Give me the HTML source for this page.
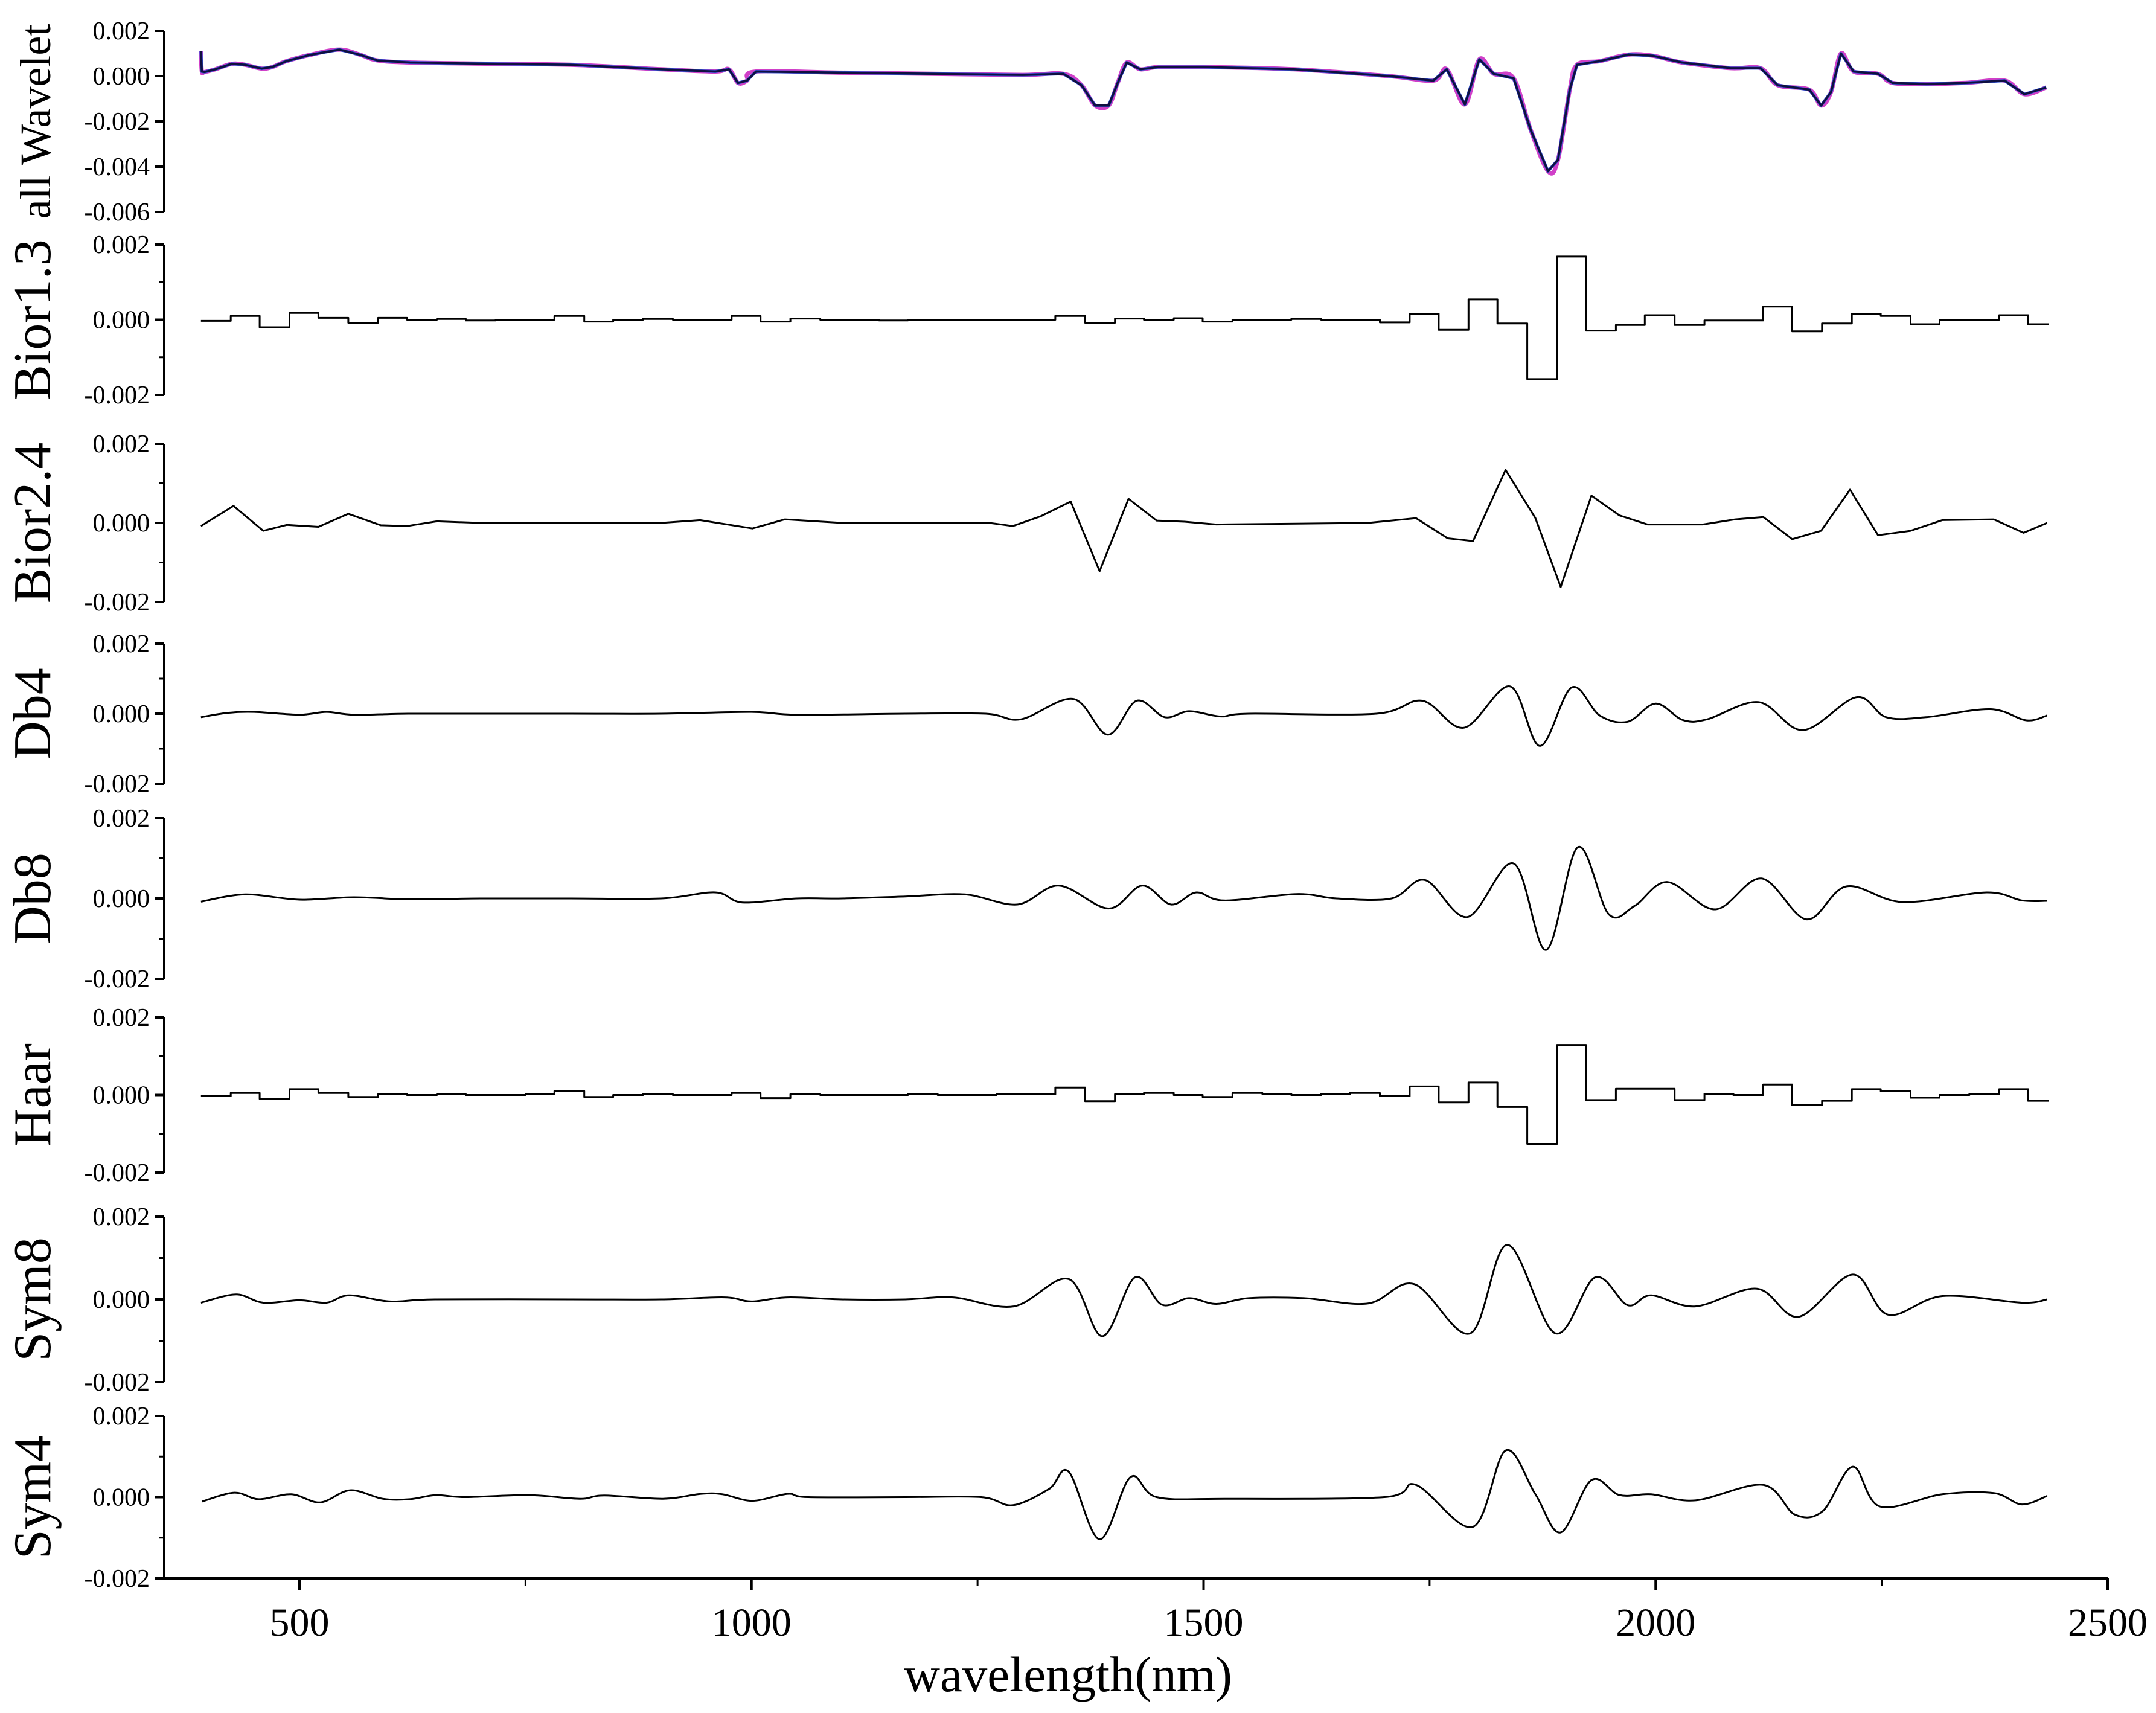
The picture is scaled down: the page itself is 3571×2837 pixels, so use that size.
<!DOCTYPE html>
<html>
<head>
<meta charset="utf-8">
<style>
  html,body{margin:0;padding:0;background:#fff;}
  svg{display:block;}
  text{font-family:"Liberation Serif",serif;fill:#000;}
</style>
</head>
<body>
<svg id="chart" xmlns="http://www.w3.org/2000/svg" width="3571" height="2837" viewBox="0 0 3571 2837">
  <rect x="0" y="0" width="3571" height="2837" fill="#fff"/>
  <g id="axes"></g>
  <g id="marks"></g>
  <text x="1769" y="2801" font-size="83" text-anchor="middle">wavelength(nm)</text>
</svg>
<script>
// ---------- data ----------
const xTicks = [500, 1000, 1500, 2000, 2500];
const xMinorTicks = [750, 1250, 1750, 2250];
const panelNames = ["all Wavelet","Bior1.3","Bior2.4","Db4","Db8","Haar","Sym8","Sym4"];

// step-series bin edges (nm)
const stepEdges = [391,424,456,489,521,554,587,619,652,684,717,750,782,815,847,880,913,945,978,1010,1043,1076,1108,1141,1173,1206,1239,1271,1304,1336,1369,1402,1434,1467,1499,1532,1565,1597,1630,1662,1695,1728,1760,1793,1825,1858,1891,1923,1956,1988,2021,2054,2086,2119,2151,2184,2217,2249,2282,2314,2347,2380,2412,2435];
const bior13Values = [-0.00003,0.0001,-0.0002,0.00018,0.00005,-0.00008,0.00005,0,0.00002,-0.00002,0,0,0.0001,-0.00005,0,0.00002,0,0,0.0001,-0.00005,0.00003,0,0,-0.00002,0,0,0,0,0,0.0001,-0.00008,0.00003,0,0.00004,-0.00005,0,0,0.00002,0,0,-0.00007,0.00016,-0.00027,0.00054,-0.0001,-0.00158,0.00168,-0.00029,-0.00014,0.00012,-0.00014,-0.00002,-0.00002,0.00035,-0.00031,-0.0001,0.00016,0.0001,-0.00012,0,0,0.00012,-0.00012];
const haarValues = [-0.00003,0.00005,-0.0001,0.00015,0.00005,-0.00005,0.00002,0,0.00002,0,0,0.00002,0.0001,-0.00005,0,0.00002,0,0,0.00005,-0.00008,0.00002,0,0,0,0.00002,0,0,0.00002,0.00002,0.00019,-0.00016,0.00002,0.00005,0,-0.00005,0.00005,0.00003,0,0.00003,0.00005,-0.00003,0.00022,-0.00019,0.00032,-0.00031,-0.00126,0.00129,-0.00013,0.00016,0.00016,-0.00013,0.00003,0,0.00027,-0.00026,-0.00015,0.00015,0.0001,-0.00007,0,0.00003,0.00015,-0.00015];

// all Wavelet (overlay)
const allWl = [391,392,395,407,425,440,458,470,485,511,544,568,586,622,700,800,900,960,975,985,995,1005,1100,1200,1300,1345,1365,1380,1395,1405,1415,1430,1450,1500,1600,1705,1754,1769,1789,1805,1821,1843,1862,1881,1892,1905,1913,1938,1970,1997,2029,2083,2116,2135,2170,2183,2194,2205,2219,2246,2262,2300,2343,2386,2408,2432];
const allVal = [0.0011,0.0002,0.00018,0.0003,0.00054,0.0005,0.00033,0.0004,0.00065,0.00093,0.00117,0.00093,0.00069,0.0006,0.00055,0.0005,0.0003,0.0002,0.0003,-0.0003,-0.0002,0.0002,0.00015,0.0001,0.00005,0.0001,-0.0004,-0.0013,-0.0013,-0.0003,0.0006,0.0003,0.0004,0.0004,0.0003,0,-0.0002,0.0003,-0.00125,0.00074,0.0001,-0.0001,-0.0024,-0.0042,-0.0037,-0.0006,0.0005,0.00066,0.00095,0.0009,0.0006,0.00035,0.00035,-0.0004,-0.0006,-0.0013,-0.0007,0.001,0.0002,0.0001,-0.0003,-0.00035,-0.0003,-0.0002,-0.0008,-0.0005];

// Bior2.4
const b24Wl = [391,427,460,486,521,554,590,619,652,700,800,900,943,1001,1037,1100,1170,1263,1289,1320,1353,1385,1417,1448,1479,1514,1682,1735,1770,1798,1834,1867,1895,1929,1960,1991,2052,2088,2119,2151,2183,2215,2246,2282,2317,2374,2407,2433];
const b24Val = [-0.00008,0.00043,-0.0002,-0.00005,-0.0001,0.00023,-0.00006,-0.00008,0.00004,0,0,0,0.00007,-0.00014,0.00009,0,0,0,-0.00008,0.00017,0.00054,-0.00122,0.00061,0.00006,0.00003,-0.00004,0,0.00012,-0.00039,-0.00046,0.00134,0.00012,-0.00162,0.00069,0.00019,-0.00004,-0.00004,0.00009,0.00015,-0.00041,-0.0002,0.00084,-0.00031,-0.0002,0.00007,0.00009,-0.00025,0];

// Db4
const db4Wl = [391,420,450,500,530,560,620,700,800,900,1000,1050,1170,1259,1298,1356,1394,1426,1457,1484,1519,1550,1691,1742,1788,1839,1872,1907,1938,1969,2000,2030,2057,2114,2163,2222,2255,2299,2370,2410,2433];
const db4Val = [-0.0001,0.00002,0.00005,-0.00003,0.00005,-0.00003,0,0,0,0,0.00005,-0.00003,0,0,-0.00016,0.00042,-0.0006,0.00037,-0.0001,0.00007,-0.00008,0,0,0.00037,-0.0004,0.00078,-0.00092,0.00075,-0.00005,-0.00023,0.00029,-0.00018,-0.00016,0.00033,-0.00047,0.00047,-0.0001,-0.0001,0.00013,-0.00019,-0.00005];

// Db8
const db8Wl = [391,440,500,560,620,700,800,900,960,990,1050,1100,1170,1236,1294,1340,1395,1432,1464,1492,1523,1603,1647,1708,1745,1792,1843,1879,1914,1948,1977,2013,2066,2117,2167,2211,2273,2366,2405,2433];
const db8Val = [-0.00008,0.0001,-0.00003,0.00003,-0.00002,0,0,0,0.00015,-0.0001,0,0,0.00005,0.0001,-0.00015,0.00032,-0.00025,0.00032,-0.00015,0.00015,-0.00005,0.00011,0,0,0.00046,-0.00046,0.00087,-0.00128,0.00128,-0.00039,-0.00018,0.00041,-0.00027,0.0005,-0.00052,0.0003,-0.00009,0.00015,-0.00005,-0.00006];

// Sym8
const s8Wl = [391,430,460,500,530,555,600,650,800,900,970,1000,1040,1100,1170,1223,1290,1351,1388,1424,1454,1484,1514,1550,1611,1682,1733,1795,1836,1889,1933,1969,1995,2044,2112,2158,2218,2257,2317,2405,2433];
const s8Val = [-0.00008,0.00012,-0.00008,-0.00002,-0.00008,0.0001,-0.00005,0,0,0,0.00005,-0.00005,0.00005,0,0,0.00005,-0.00017,0.00049,-0.00089,0.00053,-0.00013,0.00003,-0.00011,0.00003,0.00003,-0.0001,0.00037,-0.00082,0.00132,-0.00082,0.00053,-0.00014,0.0001,-0.00017,0.00026,-0.00042,0.0006,-0.00037,0.00008,-0.00008,0];

// Sym4
const s4Wl = [392,428,455,491,523,556,592,622,651,682,753,810,837,902,944,968,1001,1040,1063,1170,1254,1289,1329,1351,1385,1419,1448,1523,1700,1735,1798,1834,1867,1895,1929,1960,1995,2044,2119,2154,2185,2218,2248,2317,2374,2405,2433];
const s4Val = [-0.00011,0.00011,-0.00005,0.00007,-0.00013,0.00017,-0.00004,-0.00005,0.00005,0,0.00005,-0.00004,0.00004,-0.00004,0.00008,0.00007,-0.00009,0.00008,0,0,0,-0.0002,0.0002,0.00062,-0.00104,0.00049,0,-0.00004,0,0.0003,-0.00073,0.00115,0.00007,-0.00087,0.00042,0.00005,0.00007,-0.00008,0.0003,-0.00043,-0.00034,0.00075,-0.00023,0.00007,0.0001,-0.00018,0.00003];

// ---------- layout ----------
const NS = "http://www.w3.org/2000/svg";
const AX = 272, XEND = 3491;
const panels = [
  {top:51, bot:351, vmax:0.002, vmin:-0.006, ticks:[0.002,0,-0.002,-0.004,-0.006], minor:[], labels:["0.002","0.000","-0.002","-0.004","-0.006"], titleSize:72},
  {top:405, bot:654, vmax:0.002, vmin:-0.002, ticks:[0.002,0,-0.002], minor:[0.001,-0.001], labels:["0.002","0.000","-0.002"], titleSize:88},
  {top:735, bot:997, vmax:0.002, vmin:-0.002, ticks:[0.002,0,-0.002], minor:[0.001,-0.001], labels:["0.002","0.000","-0.002"], titleSize:88},
  {top:1066, bot:1298, vmax:0.002, vmin:-0.002, ticks:[0.002,0,-0.002], minor:[0.001,-0.001], labels:["0.002","0.000","-0.002"], titleSize:88},
  {top:1355, bot:1621, vmax:0.002, vmin:-0.002, ticks:[0.002,0,-0.002], minor:[0.001,-0.001], labels:["0.002","0.000","-0.002"], titleSize:88},
  {top:1685, bot:1942, vmax:0.002, vmin:-0.002, ticks:[0.002,0,-0.002], minor:[0.001,-0.001], labels:["0.002","0.000","-0.002"], titleSize:88},
  {top:2015, bot:2289, vmax:0.002, vmin:-0.002, ticks:[0.002,0,-0.002], minor:[0.001,-0.001], labels:["0.002","0.000","-0.002"], titleSize:88},
  {top:2345, bot:2614, vmax:0.002, vmin:-0.002, ticks:[0.002,0,-0.002], minor:[0.001,-0.001], labels:["0.002","0.000","-0.002"], titleSize:88}
];
function xScale(nm){ return 496 + (nm - 500) * 1.4975; }
function yScale(p, v){ const P = panels[p]; return P.top + (P.vmax - v) / (P.vmax - P.vmin) * (P.bot - P.top); }

const axes = document.getElementById('axes');
const marks = document.getElementById('marks');
function mk(tag, attrs, parent){ const e = document.createElementNS(NS, tag); for (const k in attrs) e.setAttribute(k, attrs[k]); parent.appendChild(e); return e; }

// y axes
panels.forEach((P, i) => {
  const ax = mk('line', {x1:AX, y1:P.top, x2:AX, y2:P.bot, stroke:'#000', 'stroke-width':4}, axes);
  
  
  P.ticks.forEach((v, j) => {
    const y = yScale(i, v);
    const t = mk('line', {x1:AX-15, y1:y, x2:AX, y2:y, stroke:'#000', 'stroke-width':4}, axes);
    
    
    const lb = mk('text', {x:AX-24, y:y+14, 'font-size':42, 'text-anchor':'end'}, axes);
    lb.textContent = P.labels[j];
    
    
  });
  P.minor.forEach(v => {
    const y = yScale(i, v);
    const t = mk('line', {x1:AX-8, y1:y, x2:AX, y2:y, stroke:'#000', 'stroke-width':3}, axes);
    
    
  });
  const cy = (P.top + P.bot) / 2;
  const tt = mk('text', {x:0, y:0, 'font-size':P.titleSize, 'text-anchor':'middle', transform:'translate(83,' + cy + ') rotate(-90)'}, axes);
  tt.textContent = panelNames[i];
  
  
});

// x axis
const xb = 2614;
const xa = mk('line', {x1:AX, y1:xb, x2:XEND, y2:xb, stroke:'#000', 'stroke-width':4}, axes);


xTicks.forEach(v => {
  const x = xScale(v);
  const t = mk('line', {x1:x, y1:xb, x2:x, y2:xb+20, stroke:'#000', 'stroke-width':4}, axes);
  
  
  const lb = mk('text', {x:x, y:2709, 'font-size':66, 'text-anchor':'middle'}, axes);
  lb.textContent = String(v);
  
  
});
xMinorTicks.forEach(v => {
  const x = xScale(v);
  const t = mk('line', {x1:x, y1:xb, x2:x, y2:xb+12, stroke:'#000', 'stroke-width':3}, axes);
  
  
});

// series
function linePath(p, xs, vs){ return xs.map((x, k) => (k ? 'L' : 'M') + xScale(x).toFixed(1) + ',' + yScale(p, vs[k]).toFixed(1)).join(' '); }
function smoothPath(p, xs, vs){
  const pts = xs.map((x, k) => [xScale(x), yScale(p, vs[k])]);
  let d = 'M' + pts[0][0].toFixed(1) + ',' + pts[0][1].toFixed(1);
  for (let k = 0; k < pts.length - 1; k++) {
    const p0 = pts[Math.max(0, k-1)], p1 = pts[k], p2 = pts[k+1], p3 = pts[Math.min(pts.length-1, k+2)];
    const c1x = p1[0] + (p2[0]-p0[0])/6, c1y = p1[1] + (p2[1]-p0[1])/6;
    const c2x = p2[0] - (p3[0]-p1[0])/6, c2y = p2[1] - (p3[1]-p1[1])/6;
    d += ' C' + c1x.toFixed(1) + ',' + c1y.toFixed(1) + ' ' + c2x.toFixed(1) + ',' + c2y.toFixed(1) + ' ' + p2[0].toFixed(1) + ',' + p2[1].toFixed(1);
  }
  return d;
}
function stepPath(p, edges, vs){
  let d = 'M' + xScale(edges[0]).toFixed(1) + ',' + yScale(p, vs[0]).toFixed(1);
  for (let k = 0; k < vs.length; k++) {
    if (k > 0) d += ' V' + yScale(p, vs[k]).toFixed(1);
    d += ' H' + xScale(edges[k+1]).toFixed(1);
  }
  return d;
}
function addPath(d, color, w, name){
  const e = mk('path', {d:d, fill:'none', stroke:color, 'stroke-width':w, 'stroke-linejoin':'round'}, marks);
  
  
}
addPath(smoothPath(0, allWl, allVal), '#d040c8', 7, 'all-wavelet-line-magenta');
addPath(linePath(0, allWl, allVal), '#3050d0', 5, 'all-wavelet-line-blue');
addPath(linePath(0, allWl, allVal), '#101040', 3.5, 'all-wavelet-line-navy');
addPath(stepPath(1, stepEdges, bior13Values), '#000', 3, 'bior13-line');
addPath(linePath(2, b24Wl, b24Val), '#000', 3, 'bior24-line');
addPath(smoothPath(3, db4Wl, db4Val), '#000', 3, 'db4-line');
addPath(smoothPath(4, db8Wl, db8Val), '#000', 3, 'db8-line');
addPath(stepPath(5, stepEdges, haarValues), '#000', 3, 'haar-line');
addPath(smoothPath(6, s8Wl, s8Val), '#000', 3, 'sym8-line');
addPath(smoothPath(7, s4Wl, s4Val), '#000', 3, 'sym4-line');
</script>
</body>
</html>
